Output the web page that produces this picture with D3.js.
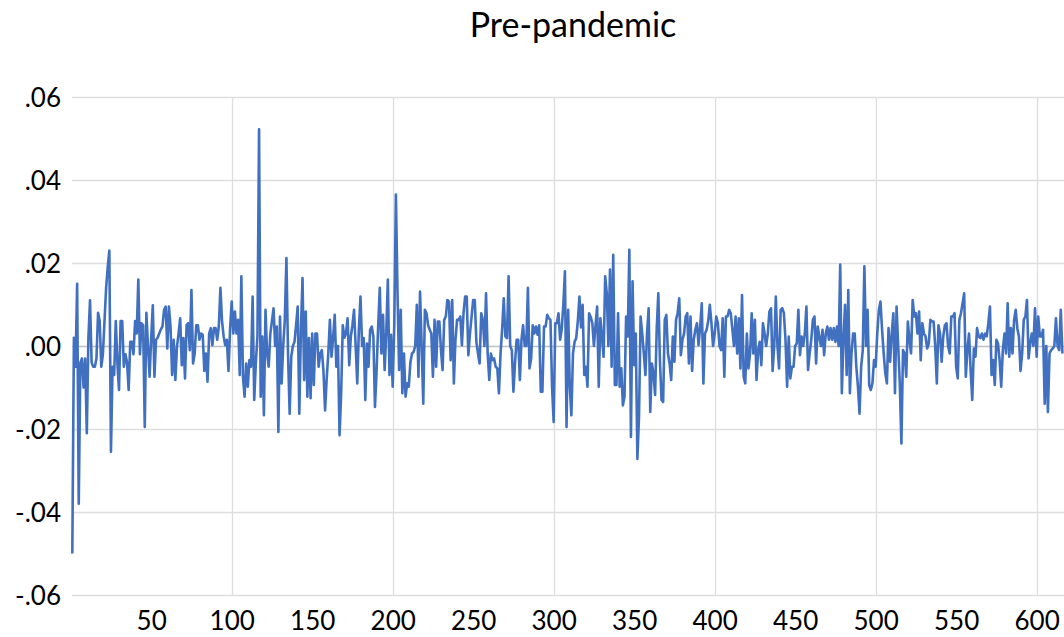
<!DOCTYPE html>
<html>
<head>
<meta charset="utf-8">
<script src="https://cdn.jsdelivr.net/npm/d3@7"></script>
<style>
  html, body { margin: 0; padding: 0; background: #fff; }
  svg { display: block; }
  text { font-family: Lato, "Open Sans", sans-serif; fill: #000; }
</style>
</head>
<body>
<svg id="chart" width="1064" height="637"></svg>
<script>
const title = "Pre-pandemic";
const yTicks = [-0.06, -0.04, -0.02, 0.00, 0.02, 0.04, 0.06];
const xLabelTicks = [50, 100, 150, 200, 250, 300, 350, 400, 450, 500, 550, 600];
const xGridTicks = [100, 200, 300, 400, 500, 600];
const values = [
-0.050, 0.002, -0.005, 0.015, -0.038, -0.004, -0.003, -0.010, -0.003, -0.021,
0.002, 0.011, -0.004, -0.005, -0.005, -0.003, 0.008, 0.006, -0.005, -0.002,
0.006, 0.014, 0.019, 0.023, -0.0255, -0.005, -0.007, 0.006, -0.004, -0.0106,
0.006, 0.006, -0.005, -0.002, -0.004, -0.0106, 0.001, 0.001, -0.002, 0.006,
0.003, 0.016, -0.002, 0.0055, 0.005, -0.0195, 0.008, 0.000, -0.0074, 0.002,
0.0098, -0.0074, 0.0015, 0.002, 0.003, 0.004, 0.0047, 0.0087, 0.0095, -0.0006,
0.0095, 0.0047, -0.007, 0.0015, -0.0082, -0.0002, 0.003, 0.0067, -0.0046, 0.0019,
-0.0078, 0.0051, 0.0055, -0.001, 0.0135, -0.0042, -0.0018, 0.005, 0.005, 0.0015,
0.003, 0.0027, -0.006, -0.0018, -0.0086, 0.003, 0.0043, 0.0002, 0.0043, 0.0043,
0.0015, 0.0047, 0.014, 0.006, 0.0023, 0.0002, 0.0015, -0.006, 0.004, 0.0107,
0.003, 0.0083, 0.003, 0.0063, -0.007, 0.0168, -0.0074, -0.0122, -0.0042, -0.0098,
-0.0034, -0.005, 0.0119, -0.013, -0.004, 0.0023, 0.0522, -0.0122, 0.0023, -0.0167,
0.0087, -0.0018, -0.005, 0.003, 0.006, 0.0091, 0.000, 0.0047, -0.0207, 0.0071,
-0.009, 0.000, 0.0063, 0.0212, -0.002, -0.0163, -0.0026, 0.000, 0.001, 0.005,
0.0095, -0.0163, 0.004, 0.0164, -0.0082, 0.0083, -0.0122, 0.0019, -0.0126, 0.003,
-0.0094, 0.003, 0.003, -0.005, -0.0018, -0.001, -0.006, -0.0155, -0.008, -0.0018,
0.0063, -0.0026, 0.002, 0.0075, -0.005, 0.000, -0.0215, -0.0114, 0.005, 0.002,
0.003, 0.0067, -0.0046, 0.0023, 0.005, 0.0087, 0.000, -0.009, 0.004, 0.0119,
0.000, 0.0019, -0.013, 0.0006, -0.005, 0.0039, 0.0047, 0.0023, -0.0147, -0.006,
0.005, 0.014, -0.0018, 0.0075, -0.0058, 0.003, 0.016, -0.007, 0.0027, -0.0098,
0.005, 0.0365, 0.0127, -0.0058, 0.0087, -0.0114, -0.0018, -0.0122, -0.009, -0.0098,
-0.004, -0.0018, -0.0014, 0.000, 0.0099, -0.0074, 0.0131, 0.000, -0.0139, 0.0087,
0.0079, 0.005, 0.0039, 0.003, -0.0074, 0.0063, -0.005, 0.0059, 0.0059, -0.001,
-0.0058, 0.0063, 0.0071, 0.0111, 0.0107, -0.0034, 0.0111, -0.009, 0.0015, 0.0063,
0.0063, 0.0071, 0.0002, 0.0079, 0.0119, 0.0119, -0.0022, 0.003, 0.007, 0.0111,
0.0111, 0.001, -0.0018, -0.0042, 0.0079, 0.0063, 0.000, 0.0127, -0.0018, -0.0082,
-0.0018, -0.0034, -0.003, -0.005, -0.0054, -0.0114, -0.0018, 0.004, 0.0115, 0.0023,
0.0019, 0.0168, 0.000, -0.001, -0.011, -0.004, 0.0015, 0.0015, -0.0082, 0.0015,
0.005, 0.000, 0.000, 0.014, -0.0054, -0.003, 0.005, 0.003, 0.0047,
0.0027, 0.005, -0.011, -0.011, 0.0047, 0.0047, 0.0075, 0.0067, 0.0063, -0.0098,
-0.0183, 0.0055, 0.0055, 0.0079, 0.0015, 0.004, 0.0099, 0.018, -0.0195, 0.0087,
-0.0098, -0.0167, -0.0018, 0.001, 0.0019, 0.006, 0.0119, 0.0045, 0.0099, -0.007,
-0.005, -0.0098, 0.0079, 0.007, 0.0055, 0.000, 0.005, 0.0095, -0.0098, 0.0067,
0.0023, -0.0026, 0.0168, 0.0127, 0.000, 0.0184, -0.005, 0.022, -0.0094, -0.0094,
0.0079, -0.0098, -0.0054, -0.0143, -0.0122, 0.0071, 0.0023, 0.0232, -0.0219, 0.0156,
-0.0046, 0.003, -0.0272, -0.0171, 0.0071, 0.003, -0.0018, -0.007, 0.003, 0.0091,
-0.0159, -0.0042, -0.0066, -0.0118, 0.004, 0.0127, -0.0034, -0.013, -0.0135, 0.0063,
0.0075, -0.0018, -0.0042, -0.0082, 0.0023, -0.0038, 0.0063, 0.0079, 0.0115, -0.0022,
0.0015, 0.003, 0.0071, 0.0079, -0.0042, 0.0071, -0.006, 0.0015, 0.0039, 0.0055,
0.0002, 0.0047, 0.0103, -0.009, 0.003, 0.0039, 0.006, 0.0099, 0.0055, 0.000,
0.003, 0.0071, 0.0055, 0.000, -0.001, 0.0067, -0.0074, 0.0071, 0.0071, 0.0087,
0.0079, 0.004, 0.000, 0.0071, -0.0018, 0.0067, -0.0054, 0.0123, -0.0074, -0.009,
0.003, -0.0054, -0.0018, 0.0079, -0.0018, 0.0063, -0.0082, -0.001, 0.001, -0.0046,
0.0055, 0.003, 0.000, 0.003, 0.0083, 0.0091, -0.006, 0.000, 0.0119, 0.000,
-0.0054, 0.0087, 0.0091, 0.0079, 0.0015, -0.0098, 0.0023, -0.0078, -0.005, -0.005,
0.000, 0.0006, 0.0087, -0.0022, 0.0023, 0.000, 0.003, 0.0095, -0.0058, -0.0018,
0.0015, 0.0063, 0.0071, -0.0042, 0.0047, 0.0023, 0.000, 0.0039, -0.0022, 0.003,
0.0047, 0.0015, 0.0043, 0.0015, 0.0043, 0.001, 0.0047, 0.000, 0.0196, -0.0114,
0.0015, 0.0099, -0.007, 0.0135, -0.0114, -0.0018, 0.003, 0.003, -0.005, -0.0098,
-0.0163, -0.005, -0.001, 0.0192, 0.000, 0.0087, -0.0094, -0.0106, -0.009, -0.0034,
-0.005, 0.003, 0.0087, 0.0107, 0.0039, -0.0018, -0.0066, -0.009, 0.0043,
-0.0038, 0.003, 0.0079, -0.0114, 0.0095, 0.000, -0.009, -0.0235, -0.001, -0.0018,
-0.0074, 0.0059, 0.0015, -0.0018, 0.0111, 0.0071, 0.0079, 0.003, 0.0083, -0.0034,
0.0055, 0.003, 0.0023, -0.0006, 0.0006, 0.0063, 0.0059, 0.0059, 0.000, -0.009,
0.005, 0.003, -0.0038, 0.0023, 0.005, 0.0055, 0.000, -0.0018, 0.0071, 0.0071,
0.0079, -0.005, -0.0078, 0.0063, 0.0079, 0.0103, 0.0127, -0.0074, -0.001, 0.003,
-0.0058, -0.013, -0.0006, -0.0026, 0.0043, 0.0023, 0.0019, 0.003, 0.0015, 0.003,
0.0023, 0.0055, 0.0095, -0.007, -0.0034, -0.0094, 0.0015, 0.0006, -0.0034, -0.0098,
-0.001, 0.003, -0.0018, 0.0103, -0.0026, 0.0043, -0.0018, 0.0063, 0.0087, 0.0043,
0.0023, -0.006, -0.0018, 0.0063, 0.0071, 0.0111, -0.003, 0.0006, 0.003, 0.000,
0.0091, -0.0026, 0.0071, 0.0023, 0.0023, 0.0039, -0.0139, 0.000, -0.0159, -0.0018,
-0.001, -0.0006, 0.000, 0.0067, 0.000, -0.001, 0.0087, -0.0018
];

const svg = d3.select("#chart");
const W = 1064, H = 637;
const plotLeft = 72, plotRight = W;

const x = d3.scaleLinear().domain([0, 617]).range([70.7, 1064]);
const y = d3.scaleLinear().domain([-0.06, 0.06]).range([595, 97]);

// horizontal gridlines
svg.append("g").selectAll("line").data(yTicks).join("line")
  .attr("x1", plotLeft).attr("x2", plotRight)
  .attr("y1", d => Math.round(y(d)) + 0.5).attr("y2", d => Math.round(y(d)) + 0.5)
  .attr("stroke", d => d === 0 ? "#bfbfbf" : "#dedede")
  .attr("stroke-width", 1.3);

// vertical gridlines
svg.append("g").selectAll("line").data(xGridTicks).join("line")
  .attr("x1", d => Math.round(x(d)) + 0.5).attr("x2", d => Math.round(x(d)) + 0.5)
  .attr("y1", y(0.06)).attr("y2", y(-0.06))
  .attr("stroke", "#dedede")
  .attr("stroke-width", 1.3);

// line
const line = d3.line().x((d, i) => x(i + 1)).y(d => y(d));
svg.append("path").datum(values)
  .attr("d", line)
  .attr("fill", "none")
  .attr("stroke", "#4070BF")
  .attr("stroke-width", 2.6)
  .attr("stroke-linejoin", "round");

// y axis labels (hyphen-minus as in the original)
const fmt = v => d3.format(".2f")(v).replace("\u2212", "-").replace("0.", ".");
const yAxis = d3.axisLeft(y).tickValues(yTicks).tickFormat(fmt).tickSize(0).tickPadding(0);
const gy = svg.append("g").attr("transform", "translate(61,0)").call(yAxis);
gy.select(".domain").remove();
gy.selectAll("text").style("font-family", "Lato, sans-serif").style("font-size", "26px").attr("fill", "#000").attr("dy", "0.35em");

// x axis labels
const xAxis = d3.axisBottom(x).tickValues(xLabelTicks).tickFormat(d3.format("d")).tickSize(0).tickPadding(0);
const gx = svg.append("g").attr("transform", "translate(0,612)").call(xAxis);
gx.select(".domain").remove();
gx.selectAll("text").style("font-family", "Lato, sans-serif").style("font-size", "26px").attr("fill", "#000").attr("dy", "0.71em");

// title
svg.append("text").attr("x", 573).attr("y", 37)
  .attr("text-anchor", "middle")
  .style("font-size", "34px")
  .text(title);
</script>
</body>
</html>
